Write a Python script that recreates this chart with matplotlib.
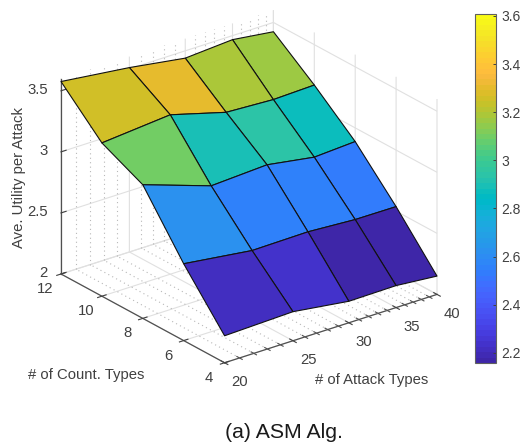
import numpy as np
import matplotlib
matplotlib.use('Agg')
import matplotlib.pyplot as plt
from matplotlib.colors import ListedColormap, Normalize
from matplotlib.cm import ScalarMappable
from mpl_toolkits.mplot3d import proj3d

plt.rcParams['font.family'] = ['Liberation Sans', 'DejaVu Sans']

W, H = 522, 443

attack_types = [20, 25, 30, 35, 40]
count_types = [4, 6, 8, 10, 12]
# rows follow count_types, columns follow attack_types
utility_c4 = [2.221, 2.238, 2.176, 2.180, 2.150]
utility_c6 = [2.629, 2.557, 2.563, 2.539, 2.537]
utility_c8 = [3.094, 2.905, 2.930, 2.868, 2.888]
utility_c10 = [3.255, 3.305, 3.178, 3.158, 3.169]
utility_c12 = [3.576, 3.510, 3.440, 3.467, 3.424]

attack_minor = [21, 22, 23, 24, 26, 27, 28, 29, 31, 32, 33, 34, 36, 37, 38, 39]
utility_ticks = [2, 2.5, 3, 3.5]
utility_labels = ['2', '2.5', '3', '3.5']
cbar_ticks = [2.2, 2.4, 2.6, 2.8, 3, 3.2, 3.4, 3.6]
cbar_labels = ['2.2', '2.4', '2.6', '2.8', '3', '3.2', '3.4', '3.6']
c_min, c_max = 2.158, 3.608

parula = ListedColormap([
    [0.2422,0.1504,0.6603],[0.2504,0.1650,0.7076],[0.2578,0.1818,0.7511],[0.2647,0.1978,0.7952],
    [0.2706,0.2147,0.8364],[0.2751,0.2342,0.8710],[0.2783,0.2559,0.8991],[0.2803,0.2782,0.9221],
    [0.2813,0.3006,0.9414],[0.2810,0.3228,0.9579],[0.2795,0.3447,0.9717],[0.2760,0.3667,0.9829],
    [0.2699,0.3892,0.9906],[0.2602,0.4123,0.9952],[0.2440,0.4358,0.9988],[0.2206,0.4603,0.9973],
    [0.1963,0.4847,0.9892],[0.1834,0.5074,0.9798],[0.1786,0.5289,0.9682],[0.1764,0.5499,0.9520],
    [0.1687,0.5703,0.9359],[0.1540,0.5902,0.9218],[0.1460,0.6091,0.9079],[0.1380,0.6276,0.8973],
    [0.1248,0.6459,0.8883],[0.1113,0.6635,0.8763],[0.0952,0.6798,0.8598],[0.0689,0.6948,0.8394],
    [0.0297,0.7082,0.8163],[0.0036,0.7203,0.7917],[0.0067,0.7312,0.7660],[0.0433,0.7411,0.7394],
    [0.0964,0.7500,0.7120],[0.1408,0.7584,0.6842],[0.1717,0.7670,0.6554],[0.1938,0.7758,0.6251],
    [0.2161,0.7843,0.5923],[0.2470,0.7918,0.5567],[0.2906,0.7973,0.5188],[0.3406,0.8008,0.4789],
    [0.3909,0.8029,0.4354],[0.4456,0.8024,0.3909],[0.5044,0.7993,0.3480],[0.5616,0.7942,0.3045],
    [0.6174,0.7876,0.2612],[0.6720,0.7793,0.2227],[0.7242,0.7698,0.1910],[0.7738,0.7598,0.1646],
    [0.8203,0.7498,0.1535],[0.8634,0.7406,0.1596],[0.9035,0.7330,0.1774],[0.9393,0.7288,0.2100],
    [0.9728,0.7298,0.2394],[0.9956,0.7434,0.2371],[0.9970,0.7659,0.2199],[0.9952,0.7893,0.2028],
    [0.9892,0.8136,0.1885],[0.9786,0.8386,0.1766],[0.9676,0.8639,0.1643],[0.9610,0.8890,0.1537],
    [0.9597,0.9135,0.1423],[0.9628,0.9373,0.1265],[0.9691,0.9606,0.1064],[0.9769,0.9839,0.0805]])

TEXT = '#404040'
FS = 10.7

Z = np.array([utility_c4, utility_c6, utility_c8, utility_c10, utility_c12])
lx = np.log10(attack_types)  # x axis is logarithmic in the original
X, Y = np.meshgrid(lx, count_types)
xlo, xhi = lx[0], lx[-1]
ylo, yhi = count_types[0], count_types[-1]
zlo, zhi = 2, 3.6

fig = plt.figure(figsize=(W / 100, H / 100), dpi=100)
ax = fig.add_axes([0.1, 0.1, 0.7, 0.7 * W / H], projection='3d', proj_type='ortho')
ax.computed_zorder = False
ax.view_init(elev=24.7, azim=-127.6)
ax.set_box_aspect((268, 268, 215))
ax.set_xlim(xlo, xhi, view_margin=0)
ax.set_ylim(ylo, yhi, view_margin=0)
ax.set_zlim(zlo, zhi, view_margin=0)
ax.patch.set_alpha(0)

norm = Normalize(c_min, c_max)
ax.plot_surface(X, Y, Z, rstride=1, cstride=1, facecolors=parula(norm(Z)), shade=False,
                edgecolor='#111111', linewidth=0.8, zorder=5)

ax.set_xticks(lx)
ax.set_xticklabels([str(v) for v in attack_types])
ax.set_yticks(count_types)
ax.set_yticklabels([str(v) for v in count_types])
ax.set_zticks(utility_ticks)
ax.set_zticklabels(utility_labels)
ax.tick_params(axis='both', colors=TEXT, labelsize=FS)
ax.tick_params(axis='x', pad=6.8)
ax.tick_params(axis='y', pad=3.5)
ax.tick_params(axis='z', pad=-2.5)
ax.zaxis.set_ticks_position('upper')
ax.zaxis._get_tickdir = lambda position: 0  # z ticks run along x, not y
for a in (ax.xaxis, ax.yaxis, ax.zaxis):
    a.set_pane_color((1, 1, 1, 0))
    a.pane.set_edgecolor('none')
    a.line.set_color('#505050')
    a.line.set_linewidth(0.9)
    a._axinfo['grid'].update(color='#e0e0e0', linewidth=0.8)
    a._axinfo['tick'].update(inward_factor=0.25, outward_factor=0.25)
ax.zaxis._axinfo['tick'].update(inward_factor=0.0, outward_factor=0.3)

# tick label anchors, the labels sit higher than the default
for t in ax.xaxis.get_ticklabels():
    t.set_ha('center')
    t.set_va('bottom')
for t in ax.yaxis.get_ticklabels():
    t.set_ha('center')
    t.set_va('baseline')
for t in ax.zaxis.get_ticklabels():
    t.set_ha('right')
    t.set_va('center')

# dotted minor grid of the log axis, floor and back wall
for v in attack_minor:
    m = np.log10(v)
    ax.plot([m, m], [ylo, yhi], [zlo, zlo], ls=(0, (1, 3)), color='#b8b8b8', lw=0.8, zorder=1)
    ax.plot([m, m], [yhi, yhi], [zlo, zhi], ls=(0, (1, 3)), color='#b8b8b8', lw=0.8, zorder=1)
    ax.plot([m, m], [ylo - 0.13, ylo + 0.13], [zlo, zlo], color='#505050', lw=0.8, zorder=2)

# place the box: left floor corner at (61,274), right one at (437,295)
def to_px(x, y, z):
    a, b, _ = proj3d.proj_transform(x, y, z, ax.get_proj())
    p = ax.transData.transform((a, b))
    return p[0], H - p[1]

fig.canvas.draw()
l0 = to_px(xlo, yhi, zlo)
r0 = to_px(xhi, ylo, zlo)
s = (437 - 61) / (r0[0] - l0[0])
pos = ax.get_position()
ax.set_position([pos.x0, pos.y0, pos.width * s, pos.height * s])
fig.canvas.draw()
l0 = to_px(xlo, yhi, zlo)
pos = ax.get_position()
ax.set_position([pos.x0 + (61 - l0[0]) / W, pos.y0 - (274 - l0[1]) / H, pos.width, pos.height])

# colorbar
cax = fig.add_axes([475 / W, 1 - 363 / H, 21 / W, 349 / H])
cb = fig.colorbar(ScalarMappable(norm=norm, cmap=parula), cax=cax, ticks=cbar_ticks)
cb.set_ticklabels(cbar_labels)
cax.tick_params(direction='in', length=2.5, width=0.7, color='#404040', labelcolor=TEXT, labelsize=FS - 0.7, pad=4)
cb.outline.set_edgecolor('#606060')
cb.outline.set_linewidth(0.8)

fig.text(19 / W, 1 - 178 / H, 'Ave. Utility per Attack', rotation=90, ha='center', va='center', fontsize=FS, color=TEXT)
fig.text(86 / W, 1 - 375 / H, '# of Count. Types', ha='center', va='center', fontsize=FS, color=TEXT)
fig.text(372 / W, 1 - 380 / H, '# of Attack Types', ha='center', va='center', fontsize=FS, color=TEXT)
fig.text(284 / W, 1 - 432 / H, '(a) ASM Alg.', ha='center', va='center', fontsize=15.3, color='#1a1a1a')

fig.savefig('out.png', dpi=100)
